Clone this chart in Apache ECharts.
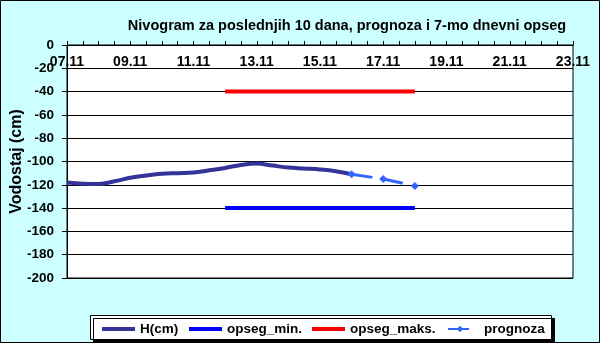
<!DOCTYPE html>
<html>
<head>
<meta charset="utf-8">
<script src="https://cdn.jsdelivr.net/npm/echarts@6/dist/echarts.min.js"></script>
<style>
html,body{margin:0;padding:0;background:#CCFFFF;}
#c{width:600px;height:343px;}
</style>
</head>
<body>
<div id="c"></div>
<script>
// ---- data ----
var titleText = 'Nivogram za poslednjih 10 dana, prognoza i 7-mo dnevni opseg';
var yTitle = 'Vodostaj (cm)';
var month = '11';
// H(cm): day of month (November) and level
var hDays   = [7, 7.5, 8, 8.5, 9, 9.5, 10, 10.5, 11, 11.5, 12, 12.5, 13, 13.5, 14, 14.5, 15, 15.5, 16];
var hValues = [-118, -119, -119.3, -117, -114, -112, -110.5, -110, -109.5, -107.5, -105.5, -103, -101.8, -103.5, -105.2, -106, -106.8, -108.3, -111];
// 7-day range
var rangeDays = [12, 18];
var minValues = [-140, -140];
var maxValues = [-40, -40];
// forecast
var progDays   = [16, 17, 18];
var progValues = [-111, -115, -121];
// names
var names = ['H(cm)', 'opseg_min.', 'opseg_maks.', 'prognoza'];

function zip(a, b) { return a.map(function (v, i) { return [v, b[i]]; }); }
var FONT = '"Liberation Sans", Arial, sans-serif';
var legendText = {fontFamily: FONT, fontWeight: 'bold', fontSize: 13.5, color: '#000'};

var chart = echarts.init(document.getElementById('c'), null, {renderer: 'canvas'});
chart.setOption({
  backgroundColor: '#CCFFFF',
  animation: false,
  title: {
    text: titleText,
    left: 342, top: 13, textAlign: 'center',
    textStyle: {fontFamily: FONT, fontWeight: 'bold', fontSize: 14.5, color: '#000'}
  },
  grid: {
    left: 67, right: 27, top: 45, bottom: 65, containLabel: false, outerBoundsMode: 'none',
    show: true, backgroundColor: '#fff', borderColor: '#000', borderWidth: 1
  },
  xAxis: {
    type: 'value', position: 'top', min: 7, max: 23, interval: 0.5,
    axisLine: {show: true, onZero: false, lineStyle: {color: '#000', width: 1}},
    axisTick: {show: true, inside: false, length: 4, lineStyle: {color: '#000'}},
    splitLine: {show: false},
    axisLabel: {
      inside: true, margin: 10, color: '#000', fontFamily: FONT, fontWeight: 'bold', fontSize: 14,
      showMinLabel: true, showMaxLabel: true, hideOverlap: false,
      formatter: function (v) {
        if (Math.abs(v - Math.round(v)) > 1e-6) return '';
        var d = Math.round(v);
        if ((d - 7) % 2 !== 0) return '';
        return (d < 10 ? '0' + d : '' + d) + '.' + month;
      }
    }
  },
  yAxis: {
    type: 'value', min: -200, max: 0, interval: 20,
    name: yTitle, nameLocation: 'middle', nameGap: 42, nameRotate: 90, nameMoveOverlap: false,
    nameTextStyle: {fontFamily: FONT, fontWeight: 'bold', fontSize: 16, color: '#000'},
    axisLine: {show: true, onZero: false, lineStyle: {color: '#000', width: 1}},
    axisTick: {show: true, inside: false, length: 5, lineStyle: {color: '#000'}},
    splitLine: {show: true, lineStyle: {color: '#000', width: 1}},
    axisLabel: {margin: 13, color: '#000', fontFamily: FONT, fontWeight: 'bold', fontSize: 13.5}
  },
  legend: [{
    left: 97, top: 317, itemWidth: 33, itemHeight: 4,
    data: [{name: names[0], icon: 'rect'}], textStyle: legendText
  }, {
    left: 184, top: 317, itemWidth: 33, itemHeight: 4,
    data: [{name: names[1], icon: 'rect'}], textStyle: legendText
  }, {
    left: 307, top: 317, itemWidth: 33, itemHeight: 4,
    data: [{name: names[2], icon: 'rect'}], textStyle: legendText
  }, {
    left: 442, top: 317, itemWidth: 24, itemHeight: 8,
    data: [names[3]],
    textStyle: Object.assign({padding: [0, 0, 0, 7]}, legendText)
  }],
  graphic: [{
    type: 'rect', z: -1, zlevel: 0,
    shape: {x: 90.5, y: 315.5, width: 461, height: 24},
    style: {fill: '#fff', stroke: '#000', lineWidth: 1, shadowColor: '#000', shadowOffsetX: 3, shadowOffsetY: 3, shadowBlur: 0}
  }, {
    type: 'rect', z: 100,
    shape: {x: 0.5, y: 0.5, width: 599, height: 342},
    style: {fill: null, stroke: '#000', lineWidth: 1}
  }],
  series: [{
    name: names[0], type: 'line', data: zip(hDays, hValues), smooth: 0.4,
    showSymbol: false, symbol: 'none',
    lineStyle: {color: '#333399', width: 4}, itemStyle: {color: '#333399'}, z: 3
  }, {
    name: names[1], type: 'line', data: zip(rangeDays, minValues),
    showSymbol: false, symbol: 'none',
    lineStyle: {color: '#0000FF', width: 4}, itemStyle: {color: '#0000FF'}, z: 2
  }, {
    name: names[2], type: 'line', data: zip(rangeDays, maxValues),
    showSymbol: false, symbol: 'none',
    lineStyle: {color: '#FF0000', width: 4}, itemStyle: {color: '#FF0000'}, z: 2
  }, {
    name: names[3], type: 'line', data: zip(progDays, progValues),
    symbol: 'diamond', symbolSize: 8, showSymbol: true,
    lineStyle: {color: '#3366FF', width: 3, type: [21, 10]}, itemStyle: {color: '#3366FF'}, z: 4
  }]
});
</script>
</body>
</html>
